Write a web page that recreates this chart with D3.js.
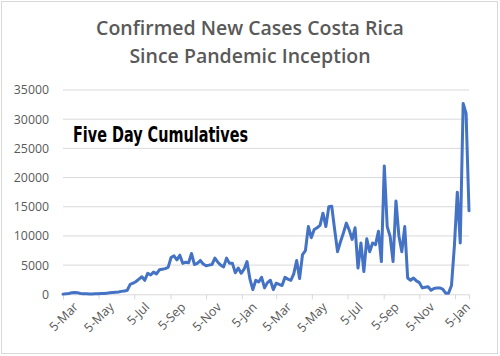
<!DOCTYPE html>
<html><head><meta charset="utf-8">
<script src="https://cdn.jsdelivr.net/npm/d3@7"></script>
<style>body{margin:0;background:#fff}svg{display:block}</style>
</head><body>
<svg id="c" width="500" height="356"></svg>
<script>
const titleLines = ["Confirmed New Cases Costa Rica", "Since Pandemic Inception"];
const annotation = "Five Day Cumulatives";
const startDate = "2020-03-05";
const stepDays = 5;
const fiveDayCases = [
  30, 80, 150, 250, 300, 250, 150, 100, 80, 60,
  60, 80, 100, 120, 150, 200, 250, 300, 350, 400,
  500, 550, 700, 1700, 1900, 2200, 2600, 3000, 2400, 3600,
  3300, 3800, 3500, 4200, 4300, 4400, 4600, 6300, 6600, 5900,
  6700, 5300, 5500, 5400, 7000, 5100, 5300, 5800, 5200, 4900,
  5000, 5100, 6200, 5500, 5000, 4700, 6200, 5300, 5300, 3700,
  4500, 3600, 4300, 5600, 2600, 800, 2400, 2100, 2900, 1100,
  2000, 2400, 800, 1900, 1700, 1500, 2900, 2600, 2400, 3500,
  5800, 2700, 6800, 7500, 11600, 9700, 11100, 11400, 11800, 13900,
  11600, 15000, 15100, 11100, 7300, 9000, 10500, 12200, 11000, 9400,
  11400, 4500, 8800, 3900, 9500, 7300, 8800, 8500, 10800, 5600,
  22000, 11600, 9900, 5600, 16000, 10000, 7300, 11600, 2800, 2400,
  2800, 2300, 2000, 1100, 1200, 1300, 700, 1000, 1100, 1100,
  900, 200, 200, 1500, 8300, 17500, 8800, 32700, 31000, 14300
];
const yTicks = [0, 5000, 10000, 15000, 20000, 25000, 30000, 35000];
const xTickDates = ["2020-03-05","2020-05-05","2020-07-05","2020-09-05","2020-11-05",
  "2021-01-05","2021-03-05","2021-05-05","2021-07-05","2021-09-05","2021-11-05","2022-01-05"];

const parse = d3.utcParse("%Y-%m-%d");
const t0 = parse(startDate);
const data = fiveDayCases.map((v, i) => ({date: d3.utcDay.offset(t0, i * stepDays), value: v}));
const lastDate = data[data.length - 1].date;

const svg = d3.select("#c");
svg.append("rect").attr("x", 1.5).attr("y", 1.5).attr("width", 496).attr("height", 352)
  .attr("fill", "#fff").attr("stroke", "#d9d9d9");

const x = d3.scaleUtc().domain([t0, d3.utcDay.offset(lastDate, 0.5)]).range([63, 469]);
const y = d3.scaleLinear().domain([0, 35000]).range([294.3, 90]);

// gridlines
svg.append("g").selectAll("line").data(yTicks.slice(1)).join("line")
  .attr("x1", 63).attr("x2", 469)
  .attr("y1", d => y(d)).attr("y2", d => y(d))
  .attr("stroke", "#d9d9d9").attr("stroke-width", 1);

// y labels
svg.append("g").selectAll("text").data(yTicks).join("text")
  .attr("x", 49).attr("y", d => y(d)).attr("dy", "0.36em")
  .attr("text-anchor", "end")
  .attr("font-family", "'Open Sans', sans-serif").attr("font-size", 12.3)
  .attr("fill", "#595959").text(d => d);

// x axis
const xAxis = d3.axisBottom(x)
  .tickValues(xTickDates.map(parse))
  .tickFormat(d3.utcFormat("%-d-%b"))
  .tickSizeOuter(0).tickSize(5);
const gx = svg.append("g").attr("transform", "translate(0,294.3)").call(xAxis);
gx.select(".domain").attr("stroke", "#d9d9d9");
gx.selectAll(".tick line").attr("stroke", "#d9d9d9");
gx.selectAll(".tick text")
  .attr("font-family", "'Open Sans', sans-serif").attr("font-size", 12.5)
  .attr("fill", "#595959")
  .attr("text-anchor", "end")
  .attr("transform", "translate(5,3) rotate(-45)")
  .attr("dy", "0.7em").attr("y", 6);

// line
svg.append("path").datum(data)
  .attr("fill", "none").attr("stroke", "#4472c4").attr("stroke-width", 3)
  .attr("stroke-linejoin", "round").attr("stroke-linecap", "round")
  .attr("d", d3.line().x(d => x(d.date)).y(d => y(d.value)));

// title
svg.append("g").selectAll("text").data(titleLines).join("text")
  .attr("x", 250).attr("y", (d, i) => 35 + i * 28)
  .attr("text-anchor", "middle")
  .attr("font-family", "'Open Sans', sans-serif").attr("font-weight", 600)
  .attr("font-size", 19.5).attr("fill", "#595959").text(d => d);

// annotation
svg.append("text").attr("x", 73).attr("y", 141.5)
  .attr("font-family", "'Liberation Sans Narrow', 'DejaVu Sans Condensed', sans-serif")
  .attr("font-weight", "bold").attr("font-size", 22)
  .attr("textLength", 175).attr("lengthAdjust", "spacingAndGlyphs")
  .attr("fill", "#000").text(annotation);
</script>
</body></html>
